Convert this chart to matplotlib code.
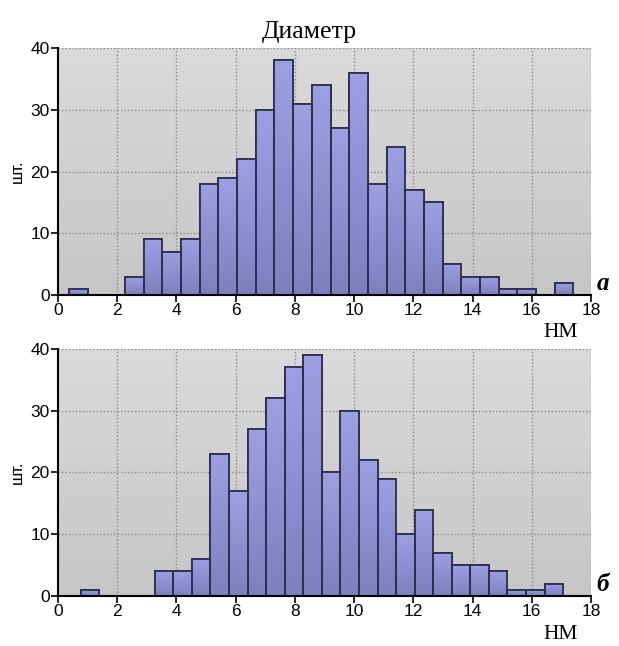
import numpy as np
import matplotlib
matplotlib.use('Agg')
import matplotlib.pyplot as plt
from matplotlib.colors import LinearSegmentedColormap

# histogram a
counts_a = [1, 0, 0, 3, 9, 7, 9, 18, 19, 22, 30, 38, 31, 34, 27, 36,
            18, 24, 17, 15, 5, 3, 3, 1, 1, 0, 2]
start_a = 0.37
width_a = 0.631

# histogram b
counts_b = [1, 0, 0, 0, 4, 4, 6, 23, 17, 27, 32, 37, 39, 20, 30, 22,
            19, 10, 14, 7, 5, 5, 4, 1, 1, 2]
start_b = 0.76
width_b = 0.627

title = 'Диаметр'
ylabel = 'шт.'
xunit = 'НМ'
panel_labels = ['a', 'б']

sans = ['Liberation Sans Narrow', 'Liberation Sans', 'DejaVu Sans']
serif = ['Liberation Serif', 'DejaVu Serif']

bg_cmap = LinearSegmentedColormap.from_list('bg', ['#c6c6c6', '#dadada'])
bar_cmap = LinearSegmentedColormap.from_list('bar', ['#7f7fbf', '#9d9fe2'])
grad = np.linspace(0, 1, 256).reshape(-1, 1)

fig = plt.figure(figsize=(6.19, 6.46), dpi=100)
ax_a = fig.add_axes([0.0937, 0.5433, 0.861, 0.3824])
ax_b = fig.add_axes([0.0937, 0.0774, 0.861, 0.3824])


def draw_hist(ax, counts, start, width):
    edges = start + width * np.arange(len(counts))
    ax.imshow(grad, cmap=bg_cmap, origin='lower', aspect='auto',
              extent=(0, 18, 0, 40), zorder=0)
    bars = ax.bar(edges, counts, width=width, align='edge',
                  facecolor='#9090d0', edgecolor='#2e2e4e', linewidth=1.3,
                  zorder=3)
    for b in bars:
        h = b.get_height()
        if h <= 0:
            continue
        im = ax.imshow(grad, cmap=bar_cmap, origin='lower', aspect='auto',
                       extent=(b.get_x(), b.get_x() + b.get_width(), 0, h),
                       zorder=3.5)
        im.set_clip_path(b)
        ax.bar(b.get_x(), h, width=b.get_width(), align='edge',
               facecolor='none', edgecolor='#2e2e4e', linewidth=1.3, zorder=4)
    ax.set_xlim(0, 18)
    ax.set_ylim(0, 40)
    ax.set_xticks(range(0, 19, 2))
    ax.set_yticks(range(0, 41, 10))
    for x in range(2, 19, 2):
        ax.axvline(x, color='#8a8a8a', linestyle=(0, (1, 1.5)), linewidth=1, zorder=1)
    for y in range(10, 41, 10):
        ax.axhline(y, color='#8a8a8a', linestyle=(0, (1, 1.5)), linewidth=1, zorder=1)
    for s in ['top', 'right']:
        ax.spines[s].set_visible(False)
    for s in ['left', 'bottom']:
        ax.spines[s].set_linewidth(1.5)
        ax.spines[s].set_zorder(5)
    ax.tick_params(direction='out', length=5, width=1.2, labelsize=12.5, pad=1)
    for lab in ax.get_xticklabels() + ax.get_yticklabels():
        lab.set_family(sans)
    ax.set_ylabel(ylabel, family=sans, fontsize=12, labelpad=4)


draw_hist(ax_a, counts_a, start_a, width_a)
draw_hist(ax_b, counts_b, start_b, width_b)

fig.text(0.5, 0.951, title, family=serif, fontsize=18.5,
         ha='center', va='center')

ax_a.text(18.2, 0, panel_labels[0], family=serif, fontsize=18,
          fontweight='bold', fontstyle='italic', ha='left', va='bottom')
ax_b.text(18.2, 0, panel_labels[1], family=serif, fontsize=18,
          fontweight='bold', fontstyle='italic', ha='left', va='bottom')

fig.text(0.905, 0.485, xunit, family=serif, fontsize=15.5,
         ha='center', va='center')
fig.text(0.905, 0.018, xunit, family=serif, fontsize=15.5,
         ha='center', va='center')

fig.savefig('out.png', dpi=100)
